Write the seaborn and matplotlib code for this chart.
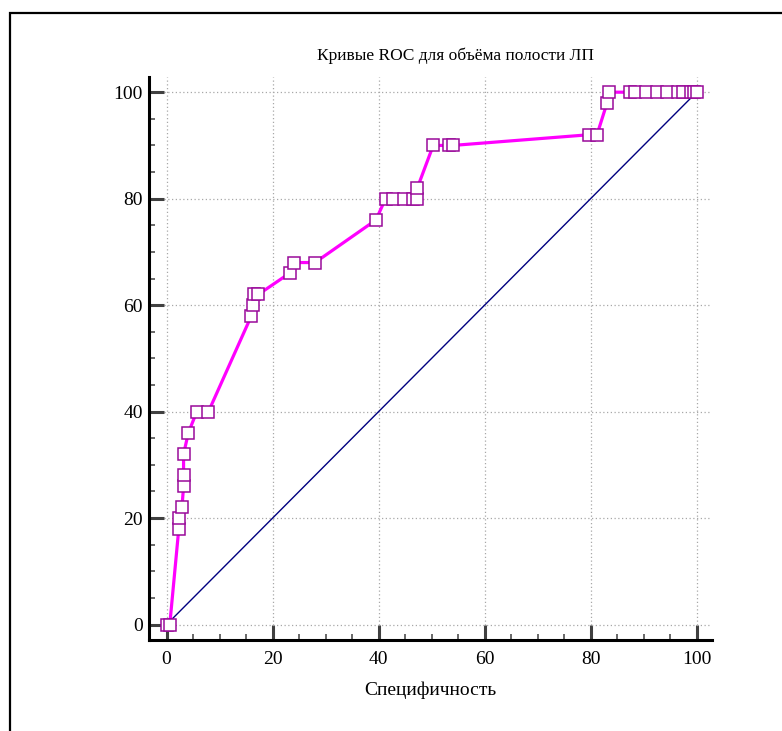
import matplotlib
matplotlib.use("Agg")
import matplotlib.pyplot as plt
import seaborn as sns
import pandas as pd
from matplotlib.patches import Rectangle
from matplotlib.ticker import MultipleLocator

# ROC curve points (x: 100 - specificity scale as labelled, y: sensitivity), in %
roc_x = [0, 0.6, 2.3, 2.3, 2.9, 3.2, 3.2, 3.2, 4.1, 5.7, 7.9,
         16.0, 16.3, 16.4, 17.3, 23.2, 24.1, 28.0, 39.5,
         41.3, 42.8, 44.7, 46.4, 47.2, 47.3,
         50.3, 53.3, 54.0, 79.6, 81.2, 83.1,
         83.4, 87.4, 88.3, 90.4, 92.5, 94.5, 96.5, 97.5, 99.0, 99.5, 100]
roc_y = [0, 0, 18, 20, 22, 26, 28, 32, 36, 40, 40,
         58, 60, 62, 62, 66, 68, 68, 76,
         80, 80, 80, 80, 80, 82,
         90, 90, 90, 92, 92, 98,
         100, 100, 100, 100, 100, 100, 100, 100, 100, 100, 100]

# Reference (chance) diagonal
diag_x = [0, 100]
diag_y = [0, 100]

major_ticks = [0, 20, 40, 60, 80, 100]
title_text = "Кривые ROC для объёма полости ЛП"
xlabel_text = "Специфичность"

roc_df = pd.DataFrame({"x": roc_x, "y": roc_y})
diag_df = pd.DataFrame({"x": diag_x, "y": diag_y})

sns.set_theme(style="white")
plt.rcParams["font.family"] = ["Liberation Serif", "DejaVu Serif"]

fig = plt.figure(figsize=(7.82, 7.31), dpi=100)
ax = fig.add_axes([0.190, 0.1245, 0.7205, 0.7705])

# Frame around the whole figure
frame = Rectangle((10 / 782, -0.05), 1.2, 1 - 13 / 731 + 0.05,
                  transform=fig.transFigure, fill=False,
                  edgecolor="black", linewidth=1.6, zorder=0)
fig.patches.append(frame)

sns.lineplot(data=diag_df, x="x", y="y", ax=ax, color="#000080",
             linewidth=1.0, sort=False, estimator=None, zorder=2)
sns.lineplot(data=roc_df, x="x", y="y", ax=ax, color="#ff00ff",
             linewidth=2.3, sort=False, estimator=None,
             marker="s", markersize=9.0, markerfacecolor="white",
             markeredgecolor="#9a0a9a", markeredgewidth=1.1, zorder=3)

ax.set_xlim(-3.4, 102.9)
ax.set_ylim(-2.9, 102.9)

ax.set_xticks(major_ticks)
ax.set_yticks(major_ticks)
ax.xaxis.set_minor_locator(MultipleLocator(5))
ax.yaxis.set_minor_locator(MultipleLocator(5))

ax.grid(True, which="major", color="#a8a8a8", linestyle=(0, (1, 2)),
        linewidth=0.9, zorder=0)
ax.set_axisbelow(True)

for side in ["top", "right"]:
    ax.spines[side].set_visible(False)
for side in ["left", "bottom"]:
    ax.spines[side].set_color("black")
    ax.spines[side].set_linewidth(2.2)

ax.tick_params(axis="both", which="major", direction="in", length=10.5,
               width=2.2, color="#404040", labelsize=14, labelcolor="black")
ax.tick_params(axis="both", which="minor", direction="in", length=4.3,
               width=1.1, color="#404040")
ax.tick_params(axis="x", which="major", pad=8)
ax.tick_params(axis="y", which="major", pad=4)
ax.tick_params(left=True, bottom=True, which="both")

ax.set_xlabel(xlabel_text, fontsize=14, labelpad=10, color="black")
ax.set_ylabel("")
ax.set_title(title_text, fontsize=12.5, pad=12, color="black", x=0.544)

fig.savefig("out.png", dpi=100)
